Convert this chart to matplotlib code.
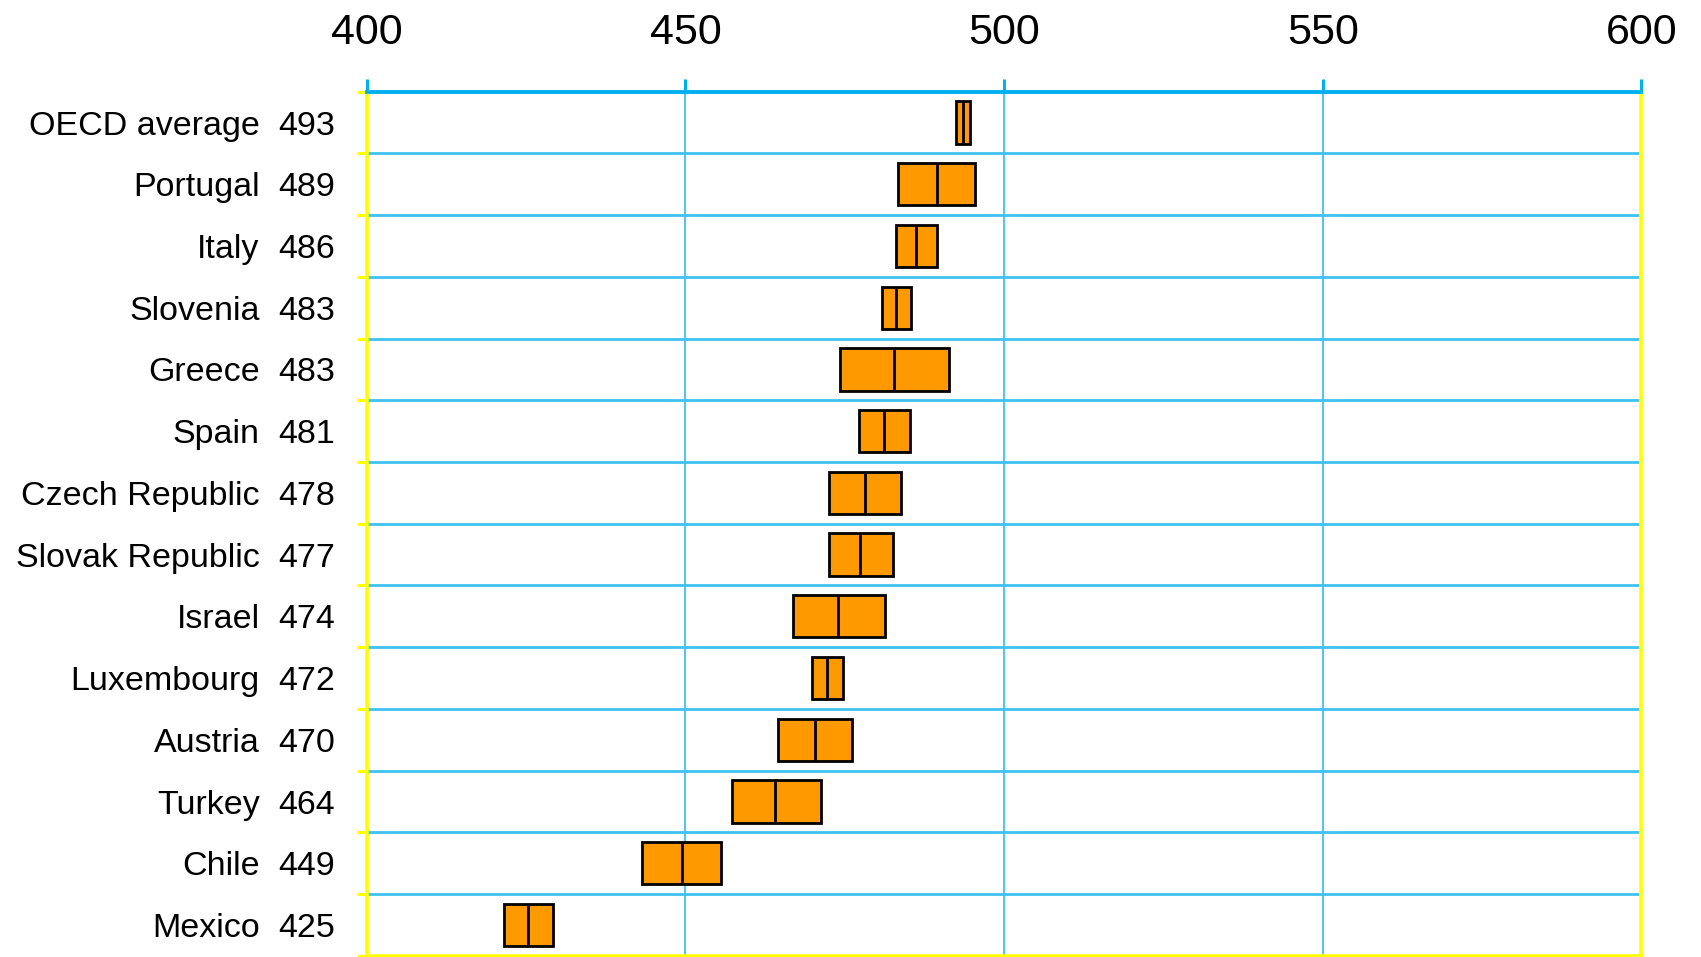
import matplotlib
matplotlib.use('Agg')
import matplotlib.pyplot as plt

plt.rcParams['font.family'] = ['Liberation Sans', 'DejaVu Sans']

# countries top to bottom, with mean score and the interval shown as a box
countries = ['OECD average', 'Portugal', 'Italy', 'Slovenia', 'Greece', 'Spain',
             'Czech Republic', 'Slovak Republic', 'Israel', 'Luxembourg',
             'Austria', 'Turkey', 'Chile', 'Mexico']
scores = [493, 489, 486, 483, 483, 481, 478, 477, 474, 472, 470, 464, 449, 425]
means = [493.5, 489.5, 486.1, 483.0, 482.8, 481.1, 478.2, 477.4, 474.0, 472.2,
         470.4, 464.1, 449.5, 425.3]
low = [492.4, 483.4, 483.0, 480.9, 474.3, 477.2, 472.6, 472.6, 466.9, 469.8,
       464.6, 457.3, 443.2, 421.5]
high = [494.6, 495.4, 489.4, 485.4, 491.3, 485.2, 483.9, 482.6, 481.3, 474.7,
        476.2, 471.3, 455.6, 429.2]
x_ticks = [400, 450, 500, 550, 600]

ORANGE = '#FF9900'
GRID_BLUE = '#3EC1F3'
TOP_BLUE = '#00B0F0'
YELLOW = '#FFFF00'

fig = plt.figure(figsize=(17.01, 9.57), dpi=100)
ax = fig.add_axes([0.2156, 0.0012, 0.965 - 0.2156, 0.9042 - 0.0012])

n = len(countries)
rows = list(range(n))
box_h = 0.685

# boxes for the interval, with a line at the mean
widths = [h - l for l, h in zip(low, high)]
ax.barh(rows, widths, left=low, height=box_h, color=ORANGE,
        edgecolor='black', linewidth=2, zorder=3)
ax.vlines(means, [r - box_h / 2 for r in rows], [r + box_h / 2 for r in rows],
          color='black', linewidth=2, zorder=4)

ax.set_xlim(x_ticks[0], x_ticks[-1])
ax.set_ylim(n - 0.5, -0.5)

# x axis on top
ax.xaxis.tick_top()
ax.set_xticks(x_ticks)
ax.set_xticklabels([str(t) for t in x_ticks], fontsize=31)
ax.tick_params(axis='x', which='major', length=9.5, width=2.2, color=TOP_BLUE,
               pad=18, labelcolor='black')
for xv in x_ticks[1:-1]:
    ax.axvline(xv, color=GRID_BLUE, linewidth=1.3, zorder=1)

# row separators
bounds = [r + 0.5 for r in rows[:-1]]
for yb in bounds:
    ax.axhline(yb, color=GRID_BLUE, linewidth=2, zorder=1)
ax.set_yticks([r - 0.5 for r in rows] + [n - 0.5])
ax.set_yticklabels([])
ax.tick_params(axis='y', length=7, width=2.2, color=YELLOW)

for side in ['left', 'right', 'bottom']:
    ax.spines[side].set_color(YELLOW)
    ax.spines[side].set_linewidth(2.6)
ax.spines['top'].set_color(TOP_BLUE)
ax.spines['top'].set_linewidth(2.8)

# country names and scores to the left
for r, name, sc in zip(rows, countries, scores):
    ax.annotate(name, xy=(0, r), xycoords=('axes fraction', 'data'),
                xytext=(-107, 0), textcoords='offset pixels',
                ha='right', va='center_baseline', fontsize=24.5)
    ax.annotate(str(sc), xy=(0, r), xycoords=('axes fraction', 'data'),
                xytext=(-32, 0), textcoords='offset pixels',
                ha='right', va='center_baseline', fontsize=24.5)

fig.savefig('out.png', dpi=100)
